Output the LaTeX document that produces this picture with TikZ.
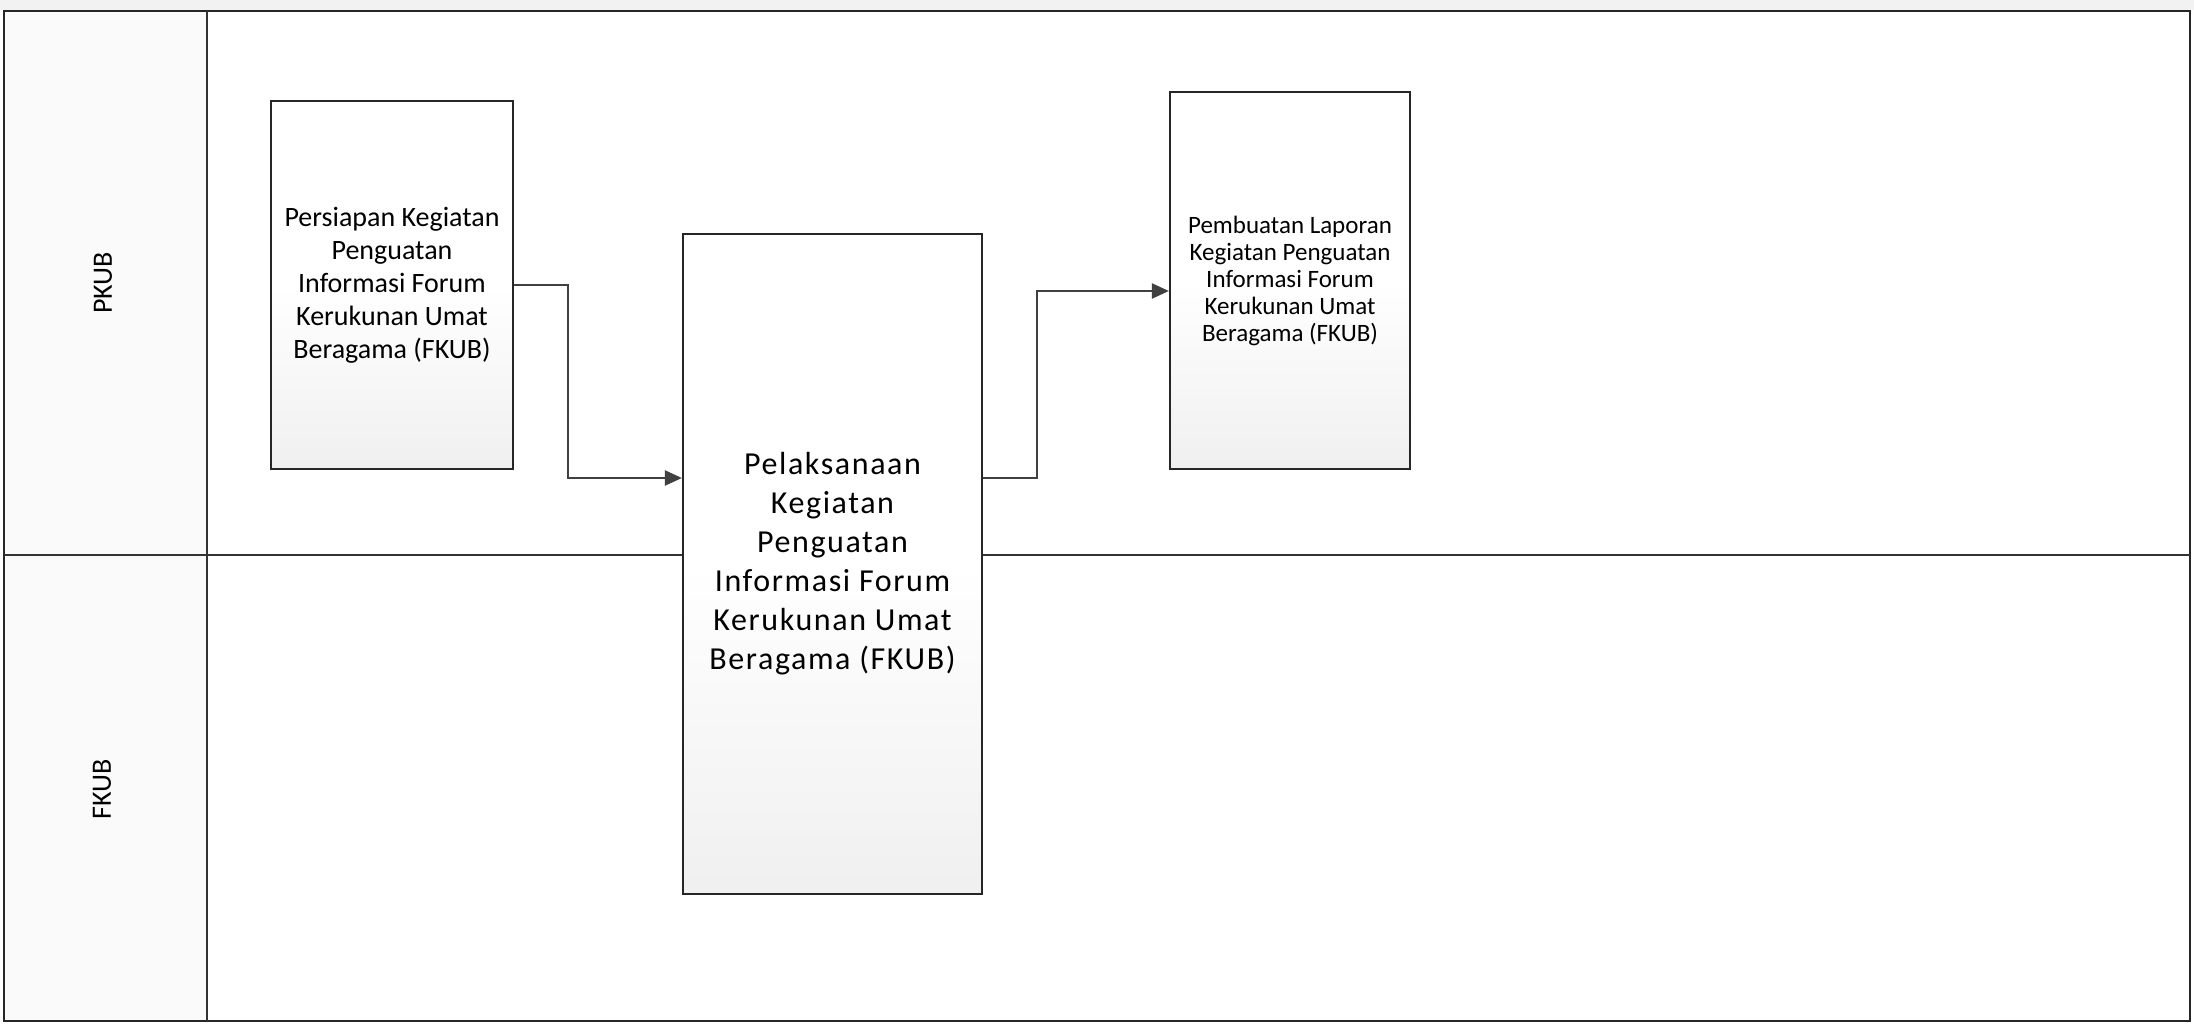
\documentclass[tikz,border=0pt]{standalone}
\usepackage{fontspec}
\setmainfont{Carlito}
\usetikzlibrary{arrows.meta}
\tikzset{
  procbox/.style={draw=black!85, line width=2.2pt, top color=white, bottom color=black!6,
    middle color=white, shading angle=0, align=center, inner sep=0pt},
  conn/.style={draw=black!75, line width=2.2pt},
  tip/.style={-{Triangle[length=17pt,width=15pt]}},
  lanelabel/.style={rotate=90, font=\fontsize{28}{33}\selectfont, inner sep=0pt},
  frameline/.style={draw=black!85, line width=2.6pt},
  laneline/.style={draw=black!80, line width=2.2pt}
}
\begin{document}
\begin{tikzpicture}[x=1pt,y=-1pt]
\useasboundingbox (0,0) rectangle (2194,1024);
\fill[white] (0,0) rectangle (2194,1024);
\fill[black!5] (0,0) rectangle (2194,10);
\fill[black!2] (4,11) rectangle (207,1021);
% frame and lanes
\draw[frameline] (4,11) rectangle (2190,1021);
\draw[laneline] (207,11) -- (207,1021);
\draw[laneline] (4,555) -- (2190,555);
\node[lanelabel] (l1) at (103,283) {PKUB};
\node[lanelabel] (l2) at (102,789) {FKUB};
% boxes
\node[procbox, minimum width=242pt, minimum height=368pt,
  font=\fontsize{28}{33}\selectfont] (b1) at (392,285)
  {Persiapan Kegiatan\\Penguatan\\Informasi Forum\\Kerukunan Umat\\Beragama (FKUB)};
\node[procbox, minimum width=299pt, minimum height=660pt,
  font=\fontsize{32}{39}\selectfont\addfontfeatures{LetterSpace=5}] (b2) at (832.5,564)
  {Pelaksanaan\\Kegiatan\\Penguatan\\Informasi Forum\\Kerukunan Umat\\Beragama (FKUB)};
\node[procbox, minimum width=240pt, minimum height=377pt,
  font=\fontsize{25}{27}\selectfont] (b3) at (1290,280.5)
  {Pembuatan Laporan\\Kegiatan Penguatan\\Informasi Forum\\Kerukunan Umat\\Beragama (FKUB)};
% connectors
\coordinate (j1) at (568,478);
\coordinate (j2) at (1037,478);
\coordinate (j3) at (1037,291);
\draw[conn, tip] (b1.east) -| (j1) -- (j1 -| b2.west);
\draw[conn, tip] (j2 -| b2.east) -- (j2) -- (j3) -- (j3 -| b3.west);
\end{tikzpicture}
\end{document}
